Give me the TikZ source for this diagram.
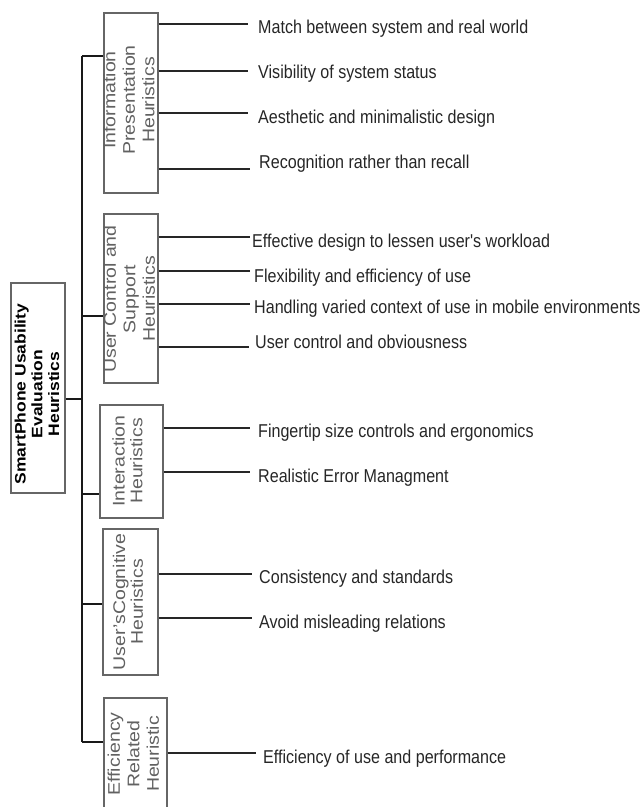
\documentclass[tikz,border=0pt]{standalone}
\usepackage{fontspec}
\setmainfont{Liberation Sans}
\newfontfamily\labfont[FakeStretch=0.865]{Liberation Sans}
\usepackage{graphicx}
\newcommand{\rottext}[3]{\scalebox{0.865}[1]{\rotatebox{90}{\fontsize{#1}{#2}\selectfont\begin{tabular}{@{}c@{}}#3\end{tabular}}}}
\newcommand{\mybranch}[7]{%
  \node[lab] (#2) at (#4,#5) {#7};
  \coordinate (#2c) at (#3,#6);
  \draw[conn] (#1.east |- #2c) -- (#2c);
}
\begin{document}
\begin{tikzpicture}[x=1pt,y=-1pt,
  box/.style={draw=black!60, line width=1.1pt, inner sep=0pt},
  boxtext/.style={inner sep=0pt, text=black!62},
  conn/.style={draw=black!85, line width=1.7pt},
  trunkline/.style={draw=black!90, line width=1.8pt},
  lab/.style={anchor=base west, inner sep=0pt, text=black!85,
    font=\labfont\fontsize{18.6}{20}\selectfont}]
\useasboundingbox (0,0) rectangle (643,807);

% root
\node[box, minimum width=54pt, minimum height=210pt] (root) at (38,388) {};
\node[boxtext, text=black] (rootT) at (39,394)
  {\rottext{17.5}{19.5}{\bfseries SmartPhone Usability\\\bfseries Evaluation\\\bfseries Heuristics}};

% category boxes
\node[box, minimum width=54pt, minimum height=180pt] (info) at (131,103) {};
\node[boxtext] (infoT) at (131,100) {\rottext{19.5}{22.5}{Information\\Presentation\\Heuristics}};

\node[box, minimum width=54pt, minimum height=169pt] (uc) at (131,298.5) {};
\node[boxtext] (ucT) at (131.5,299) {\rottext{19.5}{22.5}{User Control and\\Support\\Heuristics}};

\node[box, minimum width=63pt, minimum height=113pt] (inter) at (131.5,461.5) {};
\node[boxtext] (interT) at (130,461) {\rottext{19.5}{20.5}{Interaction\\Heuristics}};

\node[box, minimum width=55pt, minimum height=146pt] (cog) at (130.5,602) {};
\node[boxtext] (cogT) at (130.5,602) {\rottext{19.5}{20.5}{User'sCognitive\\Heuristics}};

\node[box, minimum width=63pt, minimum height=110pt] (eff) at (135.5,753) {};
\node[boxtext] (effT) at (135.5,754) {\rottext{19.5}{22.5}{Efficiency\\Related\\Heuristic}};

% trunk
\coordinate (tinfo) at (82,56);
\coordinate (tuc) at (82,316);
\coordinate (troot) at (82,399);
\coordinate (tinter) at (82,494);
\coordinate (tcog) at (82,604);
\coordinate (teff) at (82,742);
\draw[trunkline] (tinfo) -- (teff);
\draw[trunkline] (root.east |- troot) -- (troot);
\draw[trunkline] (tinfo) -- (tinfo -| info.west);
\draw[trunkline] (tuc) -- (tuc -| uc.west);
\draw[trunkline] (tinter) -- (tinter -| inter.west);
\draw[trunkline] (tcog) -- (tcog -| cog.west);
\draw[trunkline] (teff) -- (teff -| eff.west);

% branches
\mybranch{info}{i1}{248}{258}{33}{24}{Match between system and real world}
\mybranch{info}{i2}{248}{258}{78}{71}{Visibility of system status}
\mybranch{info}{i3}{248}{258}{123}{113}{Aesthetic and minimalistic design}
\mybranch{info}{i4}{250}{259}{168}{169}{Recognition rather than recall}

\mybranch{uc}{u1}{250}{252}{247}{237}{Effective design to lessen user's workload}
\mybranch{uc}{u2}{250}{254}{282}{271}{Flexibility and efficiency of use}
\mybranch{uc}{u3}{250}{254}{313}{304}{Handling varied context of use in mobile environments}
\mybranch{uc}{u4}{249}{255}{348}{347}{User control and obviousness}

\mybranch{inter}{n1}{250}{258}{437}{428}{Fingertip size controls and ergonomics}
\mybranch{inter}{n2}{250}{258}{482}{472}{Realistic Error Managment}

\mybranch{cog}{c1}{252}{259}{583}{574}{Consistency and standards}
\mybranch{cog}{c2}{252}{259}{628}{618}{Avoid misleading relations}

\mybranch{eff}{e1}{256}{263}{763}{753}{Efficiency of use and performance}
\end{tikzpicture}
\end{document}
